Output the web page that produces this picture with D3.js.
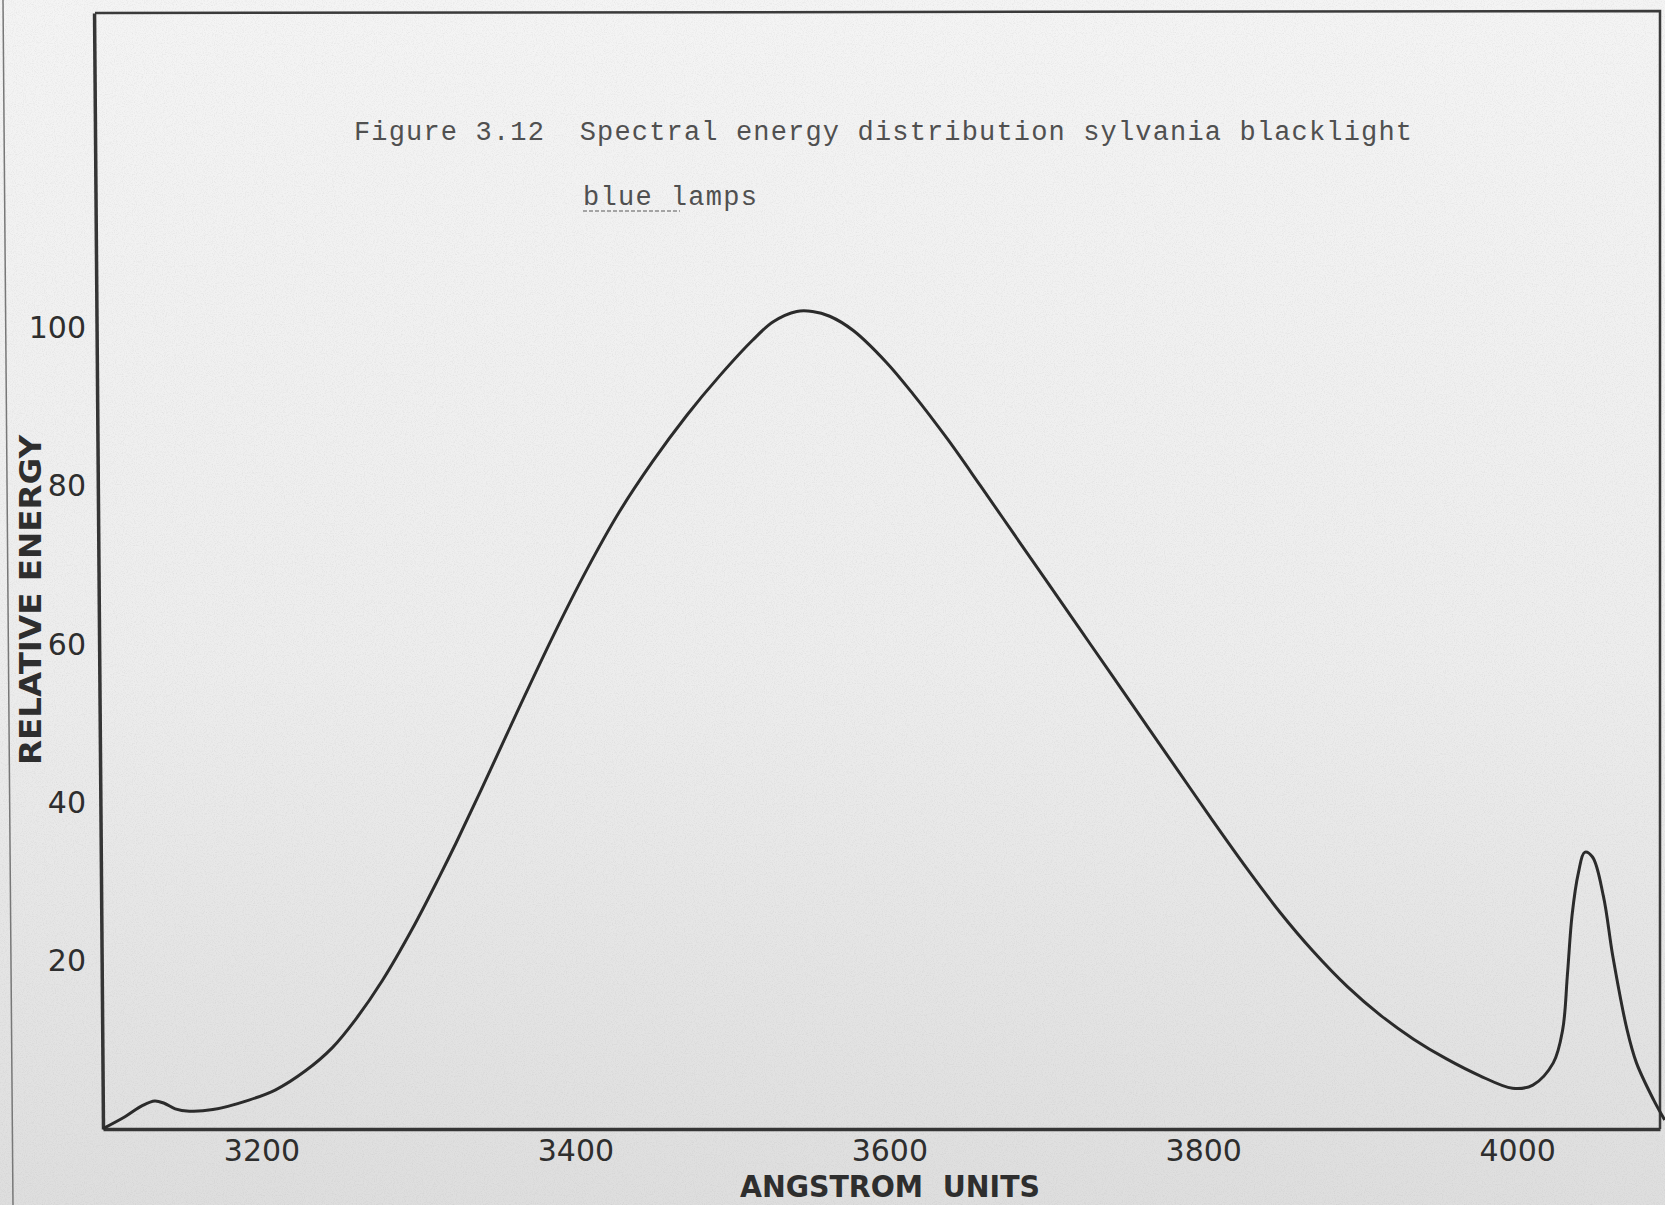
<!DOCTYPE html>
<meta charset="UTF-8">

<head>
    <script src="https://d3js.org/d3.v7.min.js"></script>
    <style>
        body {
            margin: 0;
            background: #e8e8e8;
        }

        .tick text {
            font-family: "DejaVu Sans", sans-serif;
            font-size: 30px;
            fill: #2e2e2e;
        }

        .axis path {
            stroke: #353535;
            stroke-width: 3.5px;
        }

        .frame {
            stroke: #3a3a3a;
            fill: none;
        }

        .title {
            font-family: "Liberation Mono", "DejaVu Sans Mono", monospace;
            font-size: 27px;
            fill: #505050;
        }

        .axis-title {
            font-family: "DejaVu Sans", sans-serif;
            font-weight: bold;
            font-size: 30px;
            fill: #2e2e2e;
        }
    </style>
</head>

<body>

    <script>
        // Wavelength in angstrom units
        var wavelength = [
            3099, 3113, 3124, 3132, 3138, 3145, 3154, 3169, 3192, 3209,
            3228, 3245, 3260, 3277, 3296, 3313, 3324, 3340, 3364, 3386,
            3407, 3428, 3449, 3471, 3492, 3513, 3526, 3541, 3551, 3562,
            3577, 3598, 3615, 3637, 3658, 3679, 3700, 3721, 3742, 3764,
            3785, 3806, 3828, 3849, 3870, 3892, 3913, 3934, 3955, 3976,
            3997, 4010, 4023, 4029, 4032, 4035, 4039, 4043, 4048, 4055,
            4061, 4070, 4076, 4087, 4094
        ];

        // Relative energy at each wavelength
        var energy = [
            -1.3, 0.2, 1.6, 2.2, 1.9, 1.2, 0.9, 1.1, 2.3, 3.6,
            6.0, 8.9, 12.5, 17.4, 23.9, 30.4, 34.8, 41.5, 51.8, 61.0,
            69.2, 76.6, 82.9, 88.8, 93.8, 98.3, 100.6, 101.9, 101.9, 101.3,
            99.5, 95.5, 91.5, 85.8, 79.9, 73.9, 67.9, 61.9, 55.9, 49.6,
            43.6, 37.6, 31.5, 26.0, 21.1, 16.6, 13.0, 10.0, 7.5, 5.4,
            3.8, 4.2, 7.0, 11.2, 18.1, 25.7, 31.0, 33.6, 33.0, 28.0,
            20.4, 11.2, 7.0, 2.3, -0.2
        ];

        var xTicks = [3200, 3400, 3600, 3800, 4000];
        var yTicks = [20, 40, 60, 80, 100];

        var titleLine1 = "Figure 3.12  Spectral energy distribution sylvania blacklight";
        var titleLine2 = "blue lamps";
        var xTitle = "ANGSTROM  UNITS";
        var yTitle = "RELATIVE ENERGY";

        var width = 1665,
            height = 1205;

        var svg = d3
            .select("body")
            .append("svg")
            .attr("width", width)
            .attr("height", height);

        // paper background with a little grain
        var defs = svg.append("defs");
        var grad = defs
            .append("linearGradient")
            .attr("id", "paper")
            .attr("x1", 0).attr("y1", 0)
            .attr("x2", 0).attr("y2", 1);
        grad.append("stop").attr("offset", "0%").attr("stop-color", "#f4f4f4");
        grad.append("stop").attr("offset", "55%").attr("stop-color", "#ededed");
        grad.append("stop").attr("offset", "100%").attr("stop-color", "#dedede");

        var grain = defs.append("filter").attr("id", "grain");
        grain
            .append("feTurbulence")
            .attr("type", "fractalNoise")
            .attr("baseFrequency", 0.9)
            .attr("numOctaves", 2)
            .attr("seed", 4);
        grain
            .append("feColorMatrix")
            .attr("type", "matrix")
            .attr("values", "0 0 0 0 0.3  0 0 0 0 0.3  0 0 0 0 0.3  0 0 0 -0.9 0.5");

        svg
            .append("rect")
            .attr("width", width)
            .attr("height", height)
            .attr("fill", "url(#paper)");

        svg
            .append("rect")
            .attr("width", width)
            .attr("height", height)
            .attr("filter", "url(#grain)")
            .attr("opacity", 0.35);

        // page edge on the far left (the scan is a little tilted)
        svg
            .append("line")
            .attr("x1", 3).attr("x2", 13)
            .attr("y1", 0).attr("y2", height)
            .attr("stroke", "#777")
            .attr("stroke-width", 1.5);

        // scales
        var x = d3.scaleLinear().domain([3099, 4091]).range([103, 1660]);
        var y = d3.scaleLinear().domain([-1.35, 139.6]).range([1129, 13]);

        // top and right border of the frame
        svg
            .append("path")
            .attr("class", "frame")
            .attr("stroke-width", 2.5)
            .attr("d", d3.line()([
                [x.range()[0] - 8, y.range()[1]],
                [x.range()[1], y.range()[1] - 2],
                [x.range()[1], y.range()[0]]
            ]));

        // axes
        svg
            .append("g")
            .attr("class", "axis x-axis")
            .attr("transform", "translate(0," + y.range()[0] + ")")
            .call(
                d3.axisBottom(x)
                    .tickValues(xTicks)
                    .tickSize(0)
                    .tickPadding(9)
                    .tickFormat(d3.format("d"))
            );

        var yAxis = svg
            .append("g")
            .attr("class", "axis y-axis")
            .attr("transform", "translate(" + x.range()[0] + ",0)")
            .call(
                d3.axisLeft(y)
                    .tickValues(yTicks)
                    .tickSize(0)
                    .tickPadding(17)
                    .tickFormat(d3.format("d"))
            );

        // lean the vertical axis line like the scanned page
        yAxis
            .select(".domain")
            .attr("transform", "translate(0," + y.range()[0] + ") skewX(0.46) translate(0," + -y.range()[0] + ")");

        svg.selectAll(".y-axis .tick text").attr("dy", "0.36em");
        svg.selectAll(".x-axis .tick text").attr("dy", "0.78em");

        // curve
        var points = wavelength.map(function (w, i) {
            return [w, energy[i]];
        });

        var line = d3
            .line()
            .x(function (d) { return x(d[0]); })
            .y(function (d) { return y(d[1]); })
            .curve(d3.curveCatmullRom.alpha(0.5));

        svg
            .append("path")
            .datum(points)
            .attr("fill", "none")
            .attr("stroke", "#2b2b2b")
            .attr("stroke-width", 3)
            .attr("stroke-linejoin", "round")
            .attr("d", line);

        // typed caption
        svg
            .append("text")
            .attr("class", "title")
            .attr("x", 354)
            .attr("y", 140)
            .attr("textLength", 1058)
            .attr("lengthAdjust", "spacing")
            .attr("xml:space", "preserve")
            .text(titleLine1);

        svg
            .append("text")
            .attr("class", "title")
            .attr("x", 583)
            .attr("y", 205)
            .attr("textLength", 174)
            .attr("lengthAdjust", "spacing")
            .text(titleLine2);

        svg
            .append("line")
            .attr("x1", 583).attr("x2", 680)
            .attr("y1", 211).attr("y2", 211)
            .attr("stroke", "#8a8a8a")
            .attr("stroke-width", 1.5)
            .attr("stroke-dasharray", "4 2");

        // axis titles
        svg
            .append("text")
            .attr("class", "axis-title")
            .attr("x", 890)
            .attr("y", 1197)
            .attr("text-anchor", "middle")
            .attr("textLength", 300)
            .attr("lengthAdjust", "spacingAndGlyphs")
            .attr("xml:space", "preserve")
            .text(xTitle);

        svg
            .append("text")
            .attr("class", "axis-title")
            .attr("transform", "translate(41,600) rotate(-90)")
            .attr("text-anchor", "middle")
            .attr("textLength", 330)
            .attr("lengthAdjust", "spacingAndGlyphs")
            .text(yTitle);
    </script>

</body>
